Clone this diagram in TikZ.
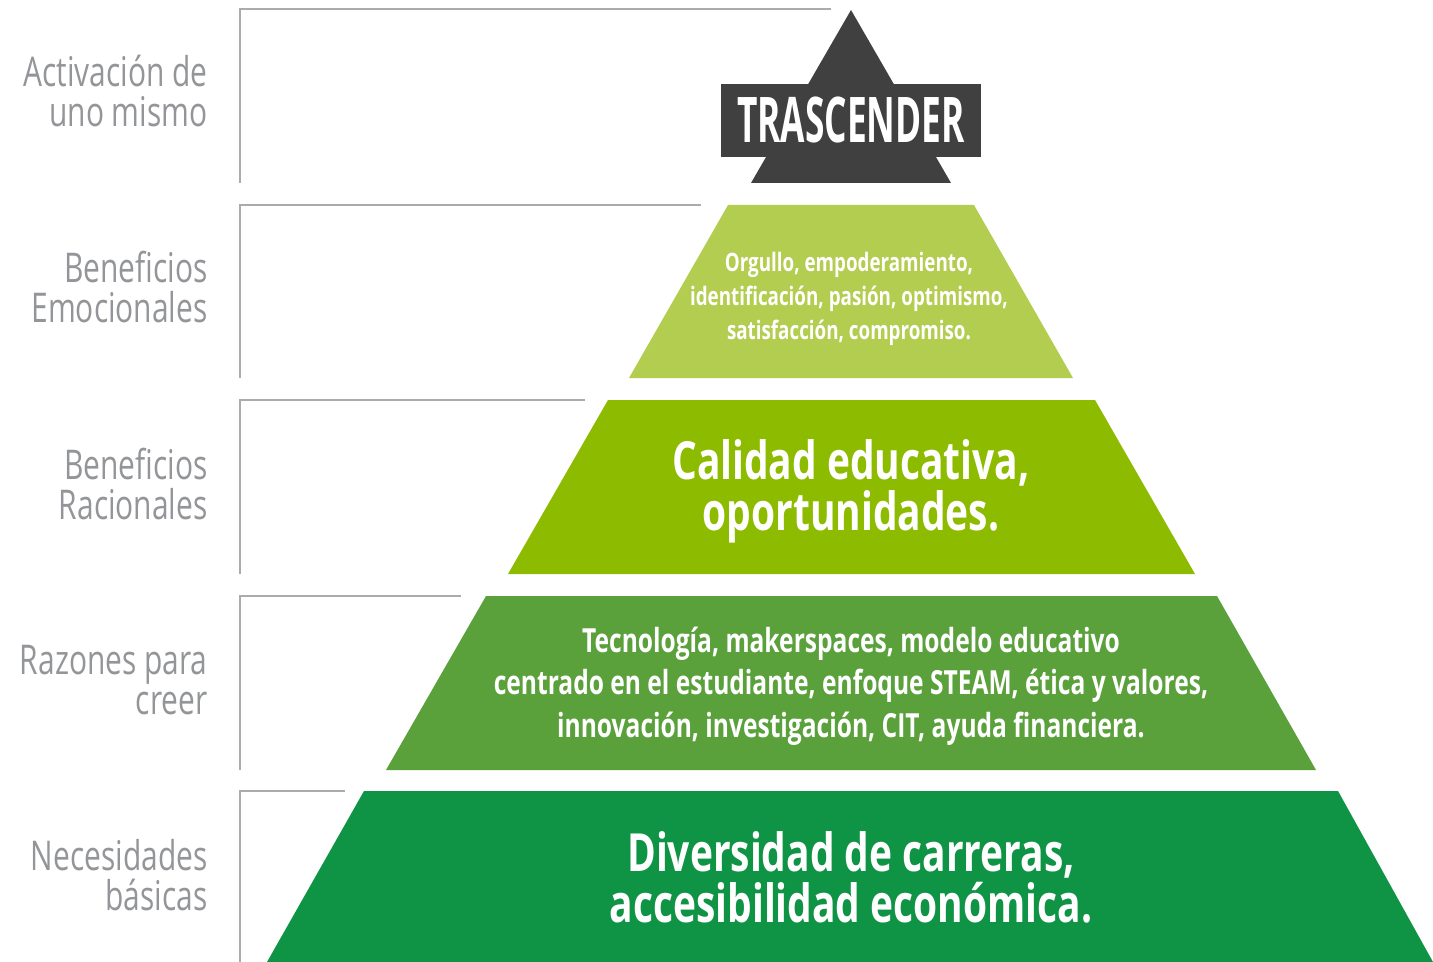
\documentclass[tikz,border=0pt]{standalone}
\usepackage{fontspec}
\setmainfont{Open Sans}
\newfontfamily\boldcond[FakeStretch=0.74]{Open Sans Bold}
\newfontfamily\graycond[FakeStretch=0.73]{Open Sans}
\newfontfamily\titlecond[FakeStretch=0.56]{Open Sans Bold}
\definecolor{dark}{HTML}{404040}
\definecolor{lvltwo}{HTML}{B2CD50}
\definecolor{lvlthree}{HTML}{8CBB00}
\definecolor{lvlfour}{HTML}{5AA13B}
\definecolor{lvlfive}{HTML}{0F9345}
\definecolor{labelgray}{HTML}{939598}
\definecolor{linegray}{HTML}{ABABAB}
\begin{document}
\begin{tikzpicture}[x=0.5pt,y=-0.5pt,
  bracket/.style={draw=linegray,line width=0.75pt},
  sidelabel/.style={anchor=east,align=right,text=labelgray,inner sep=0pt,
    font=\graycond\fontsize{20.5}{20}\selectfont},
  bigtext/.style={align=center,text=white,inner sep=0pt,
    font=\boldcond\fontsize{26.3}{25.5}\selectfont},
  midtext/.style={align=center,text=white,inner sep=0pt,
    font=\boldcond\fontsize{16.6}{21.2}\selectfont},
  smalltext/.style={align=center,text=white,inner sep=0pt,
    font=\boldcond\fontsize{12.7}{17}\selectfont}]
\useasboundingbox (0,0) rectangle (1433,962);
% brackets
\draw[bracket] (831,9) -- (240,9) -- (240,183);
\draw[bracket] (701,205) -- (240,205) -- (240,378);
\draw[bracket] (585,400) -- (240,400) -- (240,574);
\draw[bracket] (461,596) -- (240,596) -- (240,770);
\draw[bracket] (345,791) -- (240,791) -- (240,962);
% pyramid pieces
\fill[dark] (851,10) -- (951,183) -- (751,183) -- cycle;
\fill[lvltwo] (728,205) -- (974,205) -- (1073,378) -- (629,378) -- cycle;
\fill[lvlthree] (608,400) -- (1095,400) -- (1195,574) -- (508,574) -- cycle;
\fill[lvlfour] (486,596) -- (1217,596) -- (1316,770) -- (386,770) -- cycle;
\fill[lvlfive] (364,791) -- (1338,791) -- (1433,962) -- (267,962) -- cycle;
% title box
\node[fill=dark,minimum width=130pt,minimum height=36.5pt,inner sep=0pt,
  text=white,font=\titlecond\fontsize{31.5}{31.5}\selectfont] (top) at (851,120.5) {TRASCENDER};
% pyramid texts
\node[smalltext] (t2) at (849,299) {Orgullo, empoderamiento,\\identificación, pasión, optimismo,\\satisfacción, compromiso.};
\node[bigtext] (t3) at (851,491) {Calidad educativa,\\oportunidades.};
\node[midtext] (t4) at (851,686) {Tecnología, makerspaces, modelo educativo\\centrado en el estudiante, enfoque STEAM, ética y valores,\\innovación, investigación, CIT, ayuda financiera.};
\node[bigtext] (t5) at (851,877) {Diversidad de carreras,\\accesibilidad económica.};
% side labels
\node[sidelabel] (l1) at (208,91) {Activación de\\uno mismo};
\node[sidelabel] (l2) at (208,287) {Beneficios\\Emocionales};
\node[sidelabel] (l3) at (208,484) {Beneficios\\Racionales};
\node[sidelabel] (l4) at (208,680) {Razones para\\creer};
\node[sidelabel] (l5) at (208,875) {Necesidades\\básicas};
\end{tikzpicture}
\end{document}
